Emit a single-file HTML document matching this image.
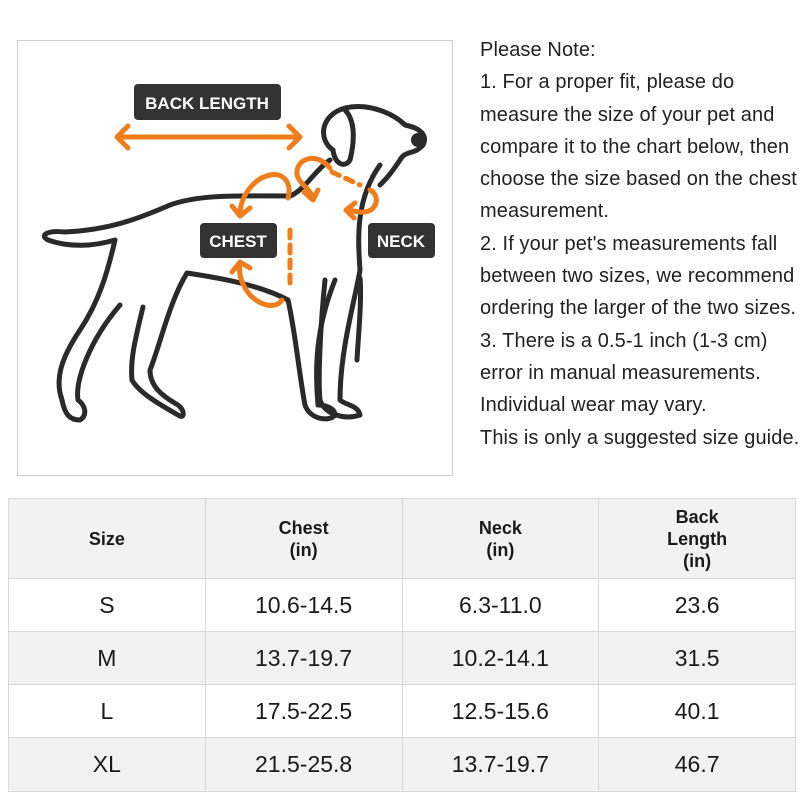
<!DOCTYPE html>
<html><head><meta charset="utf-8"><style>
body{margin:0;width:800px;height:800px;background:#fff;position:relative;overflow:hidden;font-family:"Liberation Sans","Noto Sans CJK SC",sans-serif;color:#1a1a1a}
.img{position:absolute;left:17px;top:40px;width:434px;height:434px;border:1px solid #ccc}
.note{position:absolute;left:480px;top:34px;font-size:20px;line-height:32.3px;white-space:nowrap;letter-spacing:0.1px;color:#222}
table{position:absolute;left:8px;top:498px;border-collapse:collapse;width:788px}
td{border:1px solid #d8d8d8;text-align:center;font-size:23px;padding:0}
tr.g td{background:#f2f2f2}
th{border:1px solid #d8d8d8;background:#f2f2f2;font-size:18px;font-weight:bold;line-height:22px;height:79px;width:25%;padding:0}
</style></head><body>
<div class="img"></div>
<svg style="position:absolute;left:0;top:0" width="470" height="490">
<g fill="none" stroke="#2a2a2a" stroke-width="5" stroke-linecap="round" stroke-linejoin="round">
<path d="M290,196 C240,196 200,194 170,205 C140,218 110,230 65,232 C45,230 40,236 48,240 C70,248 95,246 115,240 C108,270 100,300 80,330 C60,360 55,380 62,400 C65,415 70,420 80,420 C88,415 85,405 78,400 C75,380 90,340 120,305"/>
<path d="M143,307 C135,340 130,360 132,380 C140,395 170,410 178,415 C185,420 185,410 178,405 C160,395 150,385 150,370 C160,345 170,300 187,273 C220,278 260,285 288,300 C295,330 300,380 305,405 C310,420 330,422 335,415 C335,408 325,405 318,405 C315,370 315,330 335,280"/>
<path d="M325,280 C320,330 318,380 320,400 C325,415 345,420 360,415 C358,405 345,405 340,400 C340,350 355,300 360,270 C358,240 355,200 380,165"/>
<path d="M290,196 C305,190 315,170 330,160"/>
<path d="M333,150 C318,140 320,115 345,108 C370,102 395,115 405,125 C420,128 428,135 423,145 C415,155 405,150 400,160 C390,175 385,180 380,185"/>
<path d="M345,110 C355,120 355,140 350,160 C345,168 335,165 333,150"/>
<path d="M360,278 C362,300 358,340 357,360"/>
</g>
<circle cx="418" cy="140" r="7" fill="#2a2a2a"/>
<g fill="none" stroke="#f07d1a" stroke-width="5" stroke-linecap="round" stroke-linejoin="round">
<path d="M117,137 H300 M128,126 L117,137 L128,148 M289,126 L300,137 L289,148"/>
<path d="M288,198 C292,185 285,172 270,175 C255,178 240,195 240,215 M232,206 L240,216 L250,208"/>
<path d="M290,230 V290" stroke-dasharray="8,7"/>
<path d="M282,300 C275,310 260,305 250,295 C242,285 238,275 240,262 M232,272 L240,262 L250,268"/>
<path d="M330,168 C315,150 295,160 297,175 C300,185 310,188 313,198 M304,192 L313,200 L318,190"/>
<path d="M332,172 L360,185" stroke-dasharray="8,7"/>
<path d="M370,190 C380,195 378,210 365,212 C358,213 352,210 348,210 M355,203 L346,210 L354,218"/>
</g>
<rect x="134" y="84" width="147" height="36" rx="4" fill="#333"/>
<text x="207" y="109" fill="#fff" font-size="17" font-weight="bold" text-anchor="middle" font-family="Liberation Sans">BACK LENGTH</text>
<rect x="200" y="223" width="77" height="35" rx="4" fill="#333"/>
<text x="238" y="247" fill="#fff" font-size="17" font-weight="bold" text-anchor="middle" font-family="Liberation Sans">CHEST</text>
<rect x="368" y="223" width="67" height="35" rx="4" fill="#333"/>
<text x="401" y="247" fill="#fff" font-size="17" font-weight="bold" text-anchor="middle" font-family="Liberation Sans">NECK</text>
</svg>
<div class="note">Please Note:<br>1. For a proper fit, please do<br>measure the size of your pet and<br>compare it to the chart below, then<br>choose the size based on the chest<br>measurement.<br>2. If your pet's measurements fall<br>between two sizes, we recommend<br>ordering the larger of the two sizes.<br>3. There is a 0.5-1 inch (1-3 cm)<br>error in manual measurements.<br>Individual wear may vary.<br>This is only a suggested size guide.</div>
<table>
<tr><th>Size</th><th>Chest<br>(in)</th><th>Neck<br>(in)</th><th>Back<br>Length<br>(in)</th></tr>
<tr style="height:53px"><td>S</td><td>10.6-14.5</td><td>6.3-11.0</td><td>23.6</td></tr>
<tr class="g" style="height:53px"><td>M</td><td>13.7-19.7</td><td>10.2-14.1</td><td>31.5</td></tr>
<tr style="height:53px"><td>L</td><td>17.5-22.5</td><td>12.5-15.6</td><td>40.1</td></tr>
<tr class="g" style="height:54px"><td>XL</td><td>21.5-25.8</td><td>13.7-19.7</td><td>46.7</td></tr>
</table>
</body></html>
